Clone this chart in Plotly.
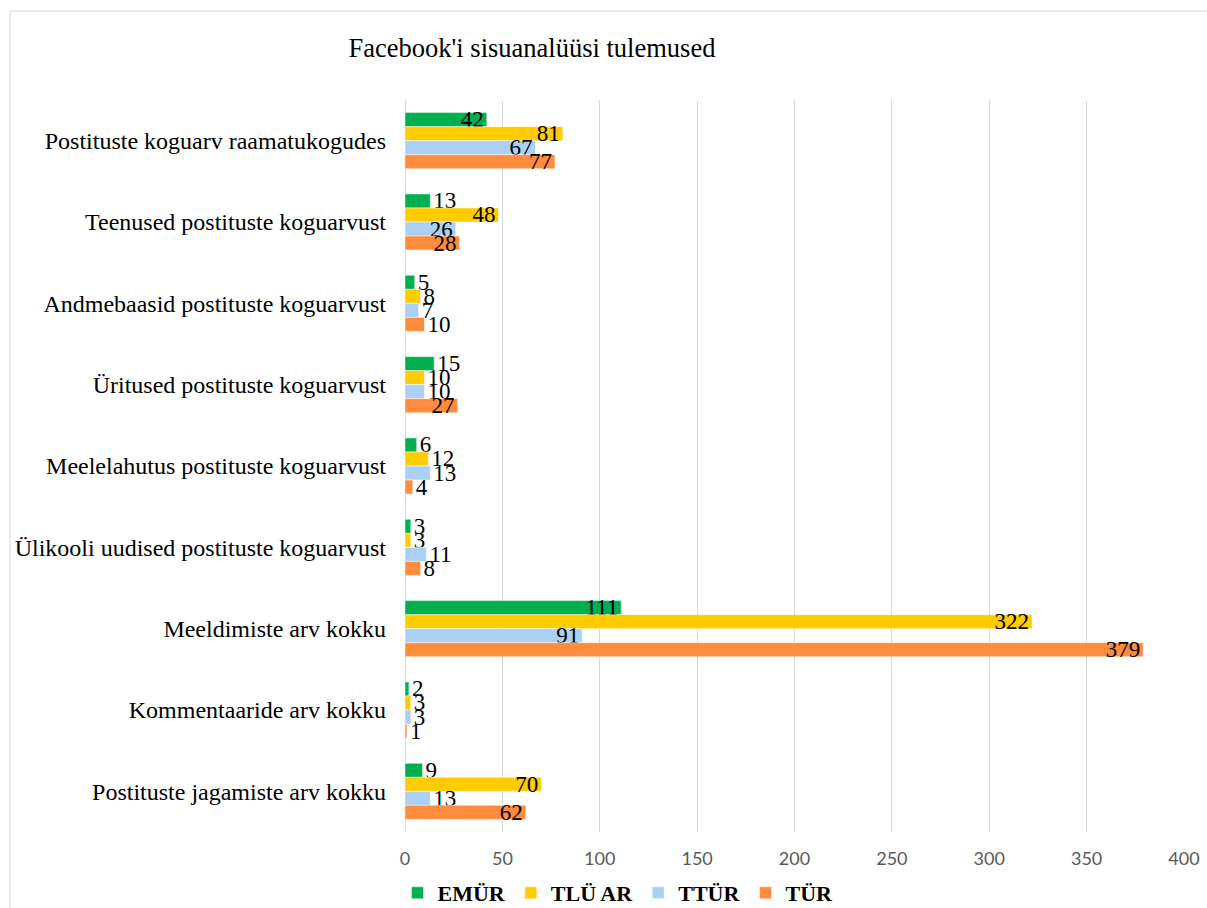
import plotly.graph_objects as go

categories = [
    "Postituste koguarv raamatukogudes",
    "Teenused postituste koguarvust",
    "Andmebaasid postituste koguarvust",
    "Üritused postituste koguarvust",
    "Meelelahutus postituste koguarvust",
    "Ülikooli uudised postituste koguarvust",
    "Meeldimiste arv kokku",
    "Kommentaaride arv kokku",
    "Postituste jagamiste arv kokku",
]
series_names = ["EMÜR", "TLÜ AR", "TTÜR", "TÜR"]
emur = [42, 13, 5, 15, 6, 3, 111, 2, 9]
tlu_ar = [81, 48, 8, 10, 12, 3, 322, 3, 70]
ttur = [67, 26, 7, 10, 13, 11, 91, 3, 13]
tur = [77, 28, 10, 27, 4, 8, 379, 1, 62]
x_ticks = [0, 50, 100, 150, 200, 250, 300, 350, 400]

series_values = [emur, tlu_ar, ttur, tur]
colors = ["#00B050", "#FFCC00", "#ABD0F5", "#FF8B3D"]

# body margin is removed by post_script, so screen px == figure px
W, H = 1207, 908
PL, PR, PT, PB = 405, 1185, 100, 832  # plot area in screen px
L, R, T, B = PL, W - PR, PT, H - PB
pw, ph = PR - PL, PB - PT


def cx(sx):
    return sx / W


def cy(sy):
    return 1 - sy / H


def px(sx):
    return (sx - PL) / pw


def py(sy):
    return (PB - sy) / ph


fig = go.Figure()
for name, vals, col in zip(series_names, series_values, colors):
    pos = ["inside" if v >= 20 else "outside" for v in vals]
    fig.add_trace(go.Bar(
        y=categories, x=vals, name=name, orientation="h",
        marker=dict(color=col, line=dict(color="rgba(255,255,255,0.6)", width=0.8)),
        text=[str(v) for v in vals], textposition=pos, textangle=0,
        insidetextanchor="end", constraintext="none",
        textfont=dict(family="Liberation Serif", size=23, color="black"),
        cliponaxis=False,
    ))

fig.update_layout(
    width=W, height=H,
    margin=dict(l=L, r=R, t=T, b=B, pad=0, autoexpand=False),
    barmode="group", bargap=0.31, bargroupgap=0,
    plot_bgcolor="white", paper_bgcolor="white",
    title=dict(text="Facebook'i sisuanalüüsi tulemused", xref="container", x=cx(532),
               xanchor="center", yref="container", y=cy(48), yanchor="middle",
               font=dict(family="Liberation Serif", size=26.5, color="black")),
    legend=dict(orientation="h", xref="container", x=cx(618), xanchor="center",
                yref="container", y=cy(893), yanchor="middle",
                font=dict(family="Liberation Serif", size=22, color="black", weight="bold"),
                itemwidth=30, tracegroupgap=0, traceorder="normal"),
    xaxis=dict(range=[0, 400.5], tickvals=x_ticks, showgrid=True, gridcolor="#D9D9D9",
               gridwidth=1, zeroline=True, zerolinecolor="#D9D9D9", zerolinewidth=1,
               showline=False, ticks="", ticklabelstandoff=14, automargin=False,
               ticklabeloverflow="allow",
               tickfont=dict(family="Lato", size=18, color="#595959")),
    yaxis=dict(autorange="reversed", showgrid=False, showline=False, ticks="",
               ticklabelstandoff=18, automargin=False,
               tickfont=dict(family="Liberation Serif", size=24, color="black")),
)

fig.add_shape(type="line", xref="paper", yref="paper",
              x0=px(10), x1=px(1215), y0=py(11), y1=py(11),
              line=dict(color="#D9D9D9", width=1))
fig.add_shape(type="line", xref="paper", yref="paper",
              x0=px(10), x1=px(10), y0=py(11), y1=py(915),
              line=dict(color="#D9D9D9", width=1))

fig.write_html("out.html", config={"displayModeBar": False},
               post_script="document.body.style.margin='0';document.body.style.overflow='hidden';")
